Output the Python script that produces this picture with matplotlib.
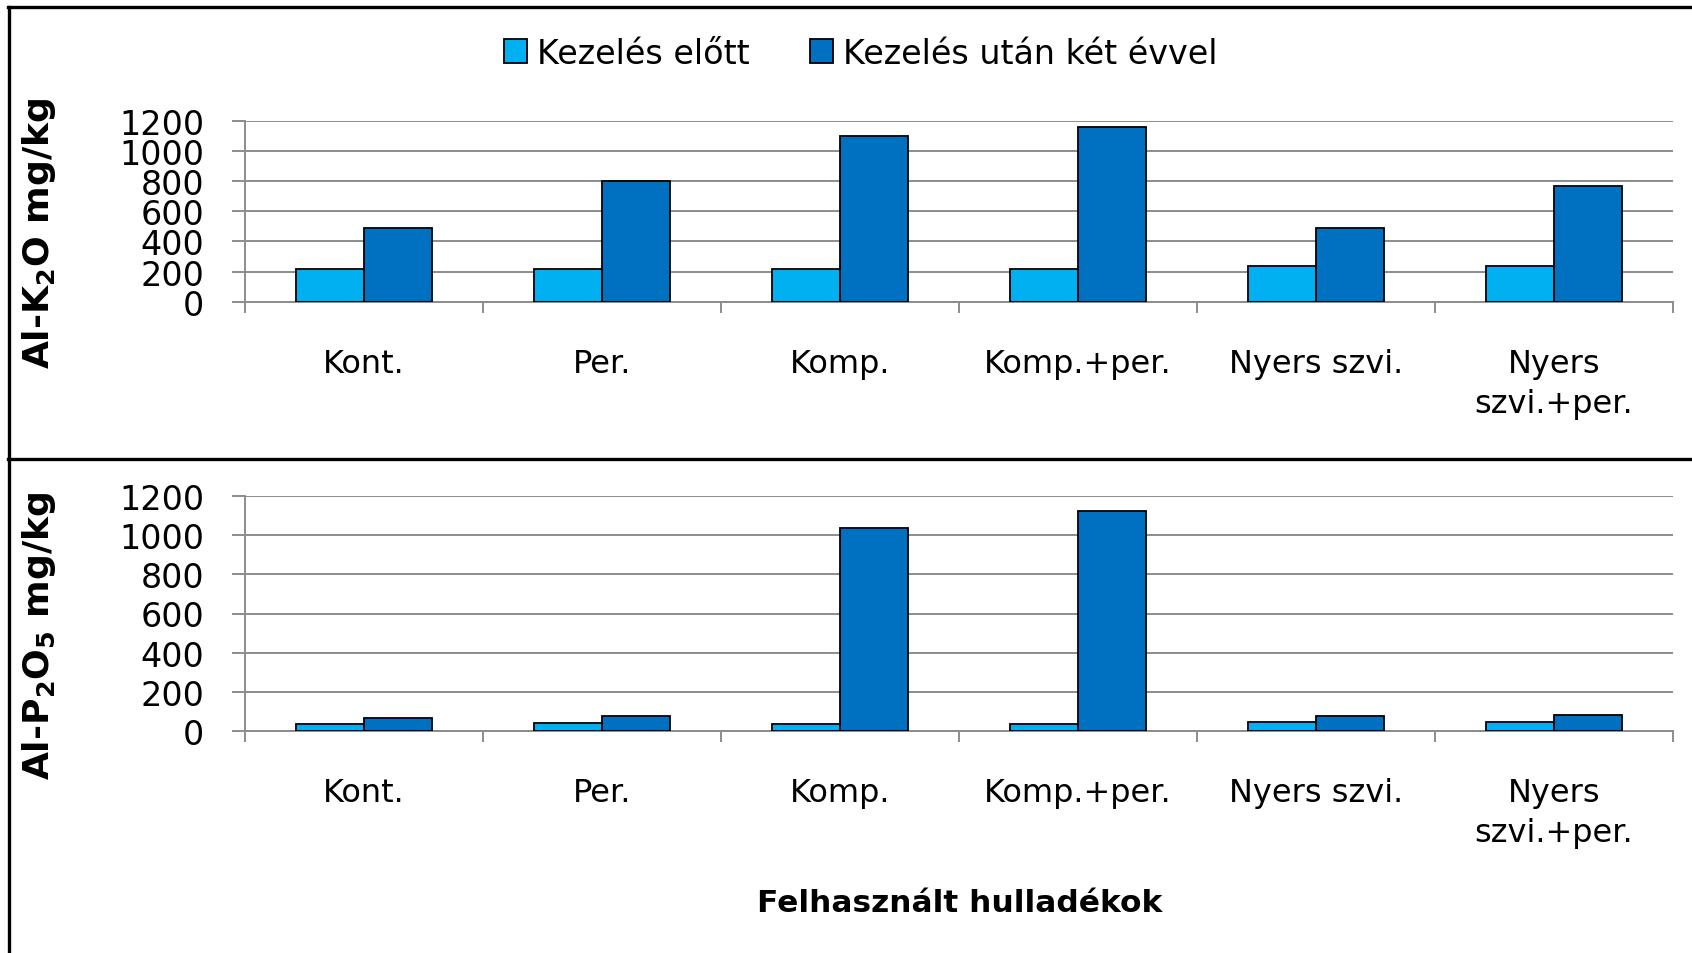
import matplotlib
matplotlib.use("Agg")
import matplotlib.pyplot as plt
import numpy as np
from matplotlib.lines import Line2D
from matplotlib.patches import Patch

plt.rcParams['font.family'] = ['DejaVu Sans']
plt.rcParams['mathtext.fontset'] = 'dejavusans'

categories = ["Kont.", "Per.", "Komp.", "Komp.+per.", "Nyers szvi.", "Nyers\nszvi.+per."]
series_names = ["Kezelés előtt", "Kezelés után két évvel"]
k2o_before = [215, 215, 215, 215, 240, 240]
k2o_after = [490, 800, 1100, 1160, 490, 770]
p2o5_before = [35, 37, 35, 35, 45, 45]
p2o5_after = [65, 73, 1040, 1125, 75, 80]
yticks = [0, 200, 400, 600, 800, 1000, 1200]
ylabel_top = r'Al-K$_\mathbf{2}$O mg/kg'
ylabel_bottom = r'Al-P$_\mathbf{2}$O$_\mathbf{5}$ mg/kg'
xlabel = "Felhasznált hulladékok"

c_light = "#00B0F0"
c_dark = "#0070C0"
grid_c = "#8C8C8C"

W, H = 1692, 954
fig = plt.figure(figsize=(W / 100, H / 100), dpi=100)

def frac_rect(left_px, right_px, top_px, bottom_px):
    return [left_px / W, 1 - bottom_px / H, (right_px - left_px) / W, (bottom_px - top_px) / H]

ax1 = fig.add_axes(frac_rect(245, 1673, 121.7, 302.7))
ax2 = fig.add_axes(frac_rect(245, 1673, 497.3, 731.7))

x = np.arange(len(categories))
bw = 0.287

def style(ax, before, after, ylabel):
    ax.bar(x - bw / 2, before, bw, color=c_light, edgecolor="black", linewidth=1.3, zorder=3)
    ax.bar(x + bw / 2, after, bw, color=c_dark, edgecolor="black", linewidth=1.3, zorder=3)
    ax.set_xlim(-0.5, len(categories) - 0.5)
    ax.set_ylim(0, 1200)
    ax.set_yticks(yticks)
    ax.set_yticklabels([str(v) for v in yticks], fontsize=24)
    ax.yaxis.grid(True, color=grid_c, linewidth=1.4, zorder=0)
    ax.set_axisbelow(True)
    for s in ("top", "right"):
        ax.spines[s].set_visible(False)
    for s in ("left", "bottom"):
        ax.spines[s].set_color(grid_c)
        ax.spines[s].set_linewidth(1.4)
    ax.tick_params(axis="y", length=9.5, width=1.4, color=grid_c, pad=20)
    ax.set_xticks(x)
    ax.set_xticklabels(categories, fontsize=23, linespacing=1.4)
    ax.set_xticks(np.arange(-0.5, len(categories), 1.0), minor=True)
    ax.tick_params(axis="x", which="major", length=0, pad=33)
    ax.tick_params(axis="x", which="minor", length=8, width=1.4, color=grid_c)
    ax.set_ylabel(ylabel, fontsize=26, fontweight="bold")

style(ax1, k2o_before, k2o_after, ylabel_top)
style(ax2, p2o5_before, p2o5_after, ylabel_bottom)
ax1.yaxis.set_label_coords((58 - 245) / (1673 - 245), (302.7 - 233) / 181)
ax2.yaxis.set_label_coords((58 - 245) / (1673 - 245), (731.7 - 636) / 234.4)

fig.text(960 / W, 1 - 904 / H, xlabel, fontsize=22.5, fontweight="bold", ha="center", va="center")

handles = [Patch(facecolor=c_light, edgecolor="black", linewidth=1.3),
           Patch(facecolor=c_dark, edgecolor="black", linewidth=1.3)]
fig.legend(handles, series_names, loc="center", bbox_to_anchor=(861 / W, 1 - 54 / H),
           ncol=2, frameon=False, fontsize=24, handlelength=0.7, handleheight=0.7,
           handletextpad=0.3, columnspacing=1.8)

lw = 2.4
fig.add_artist(Line2D([8 / W, 1], [1 - 7.5 / H, 1 - 7.5 / H], color="black", linewidth=lw))
fig.add_artist(Line2D([8 / W, 1], [1 - 460 / H, 1 - 460 / H], color="black", linewidth=lw))
fig.add_artist(Line2D([8.5 / W, 8.5 / W], [0, 1 - 7.5 / H], color="black", linewidth=lw))

fig.savefig("out.png", dpi=100)
